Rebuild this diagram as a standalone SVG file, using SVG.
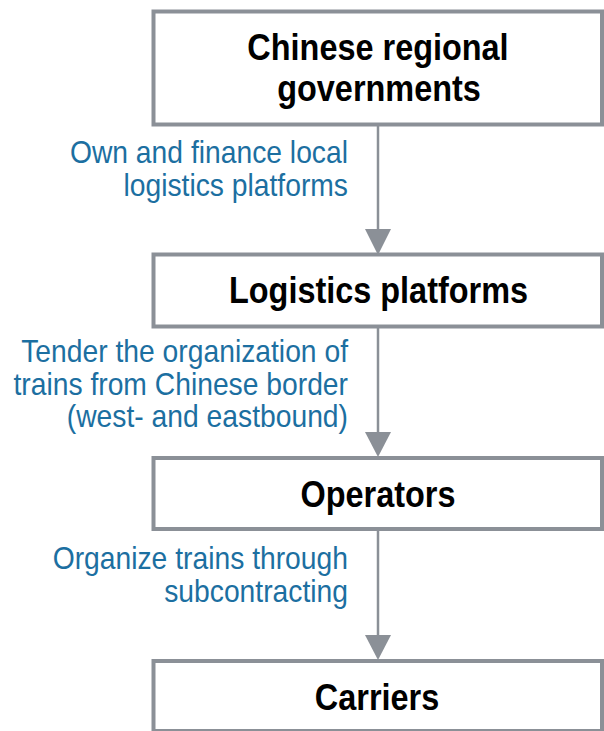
<svg xmlns="http://www.w3.org/2000/svg" width="604" height="731" viewBox="0 0 604 731">
<style>
.box{fill:#ffffff;stroke:#8b9097;stroke-width:4}
.title{font-family:"Liberation Sans",Arial,sans-serif;font-weight:bold;font-size:37.5px;fill:#000000;text-anchor:middle}
.lbl{font-family:"Liberation Sans",Arial,sans-serif;font-size:31px;fill:#1c6fa1;text-anchor:end}
.edge{stroke:#8b9097;stroke-width:2.5;fill:none}
.head{fill:#8b9097}
</style>
<rect width="604" height="731" fill="#ffffff"/>
<g id="connectors">
<line class="edge" x1="378" y1="126" x2="378" y2="232"/>
<polygon class="head" points="365,229 391,229 378,255"/>
<line class="edge" x1="378" y1="328" x2="378" y2="434"/>
<polygon class="head" points="365,432 391,432 378,457"/>
<line class="edge" x1="378" y1="531" x2="378" y2="638"/>
<polygon class="head" points="365,635 391,635 378,660"/>
<g id="label1">
<text class="lbl" transform="translate(348,163) scale(0.912,1)">Own and finance local</text>
<text class="lbl" transform="translate(348,196) scale(0.912,1)">logistics platforms</text>
</g>
<g id="label2">
<text class="lbl" transform="translate(348,362) scale(0.912,1)">Tender the organization of</text>
<text class="lbl" transform="translate(348,395) scale(0.912,1)">trains from Chinese border</text>
<text class="lbl" transform="translate(348,427) scale(0.912,1)">(west- and eastbound)</text>
</g>
<g id="label3">
<text class="lbl" transform="translate(348,569) scale(0.912,1)">Organize trains through</text>
<text class="lbl" transform="translate(348,602) scale(0.912,1)">subcontracting</text>
</g>
</g>
<g id="node-governments">
<rect class="box" x="153.5" y="11.5" width="448.5" height="113"/>
<text class="title" transform="translate(378,60) scale(0.865,1)">Chinese regional</text>
<text class="title" transform="translate(379,101) scale(0.865,1)">governments</text>
</g>
<g id="node-platforms">
<rect class="box" x="153.5" y="254.5" width="448.5" height="72"/>
<text class="title" transform="translate(378.5,303) scale(0.865,1)">Logistics platforms</text>
</g>
<g id="node-operators">
<rect class="box" x="153.5" y="458" width="448.5" height="71"/>
<text class="title" transform="translate(378,507) scale(0.865,1)">Operators</text>
</g>
<g id="node-carriers">
<rect class="box" x="153.5" y="661" width="448.5" height="70"/>
<text class="title" transform="translate(377,710) scale(0.865,1)">Carriers</text>
</g>
</svg>
